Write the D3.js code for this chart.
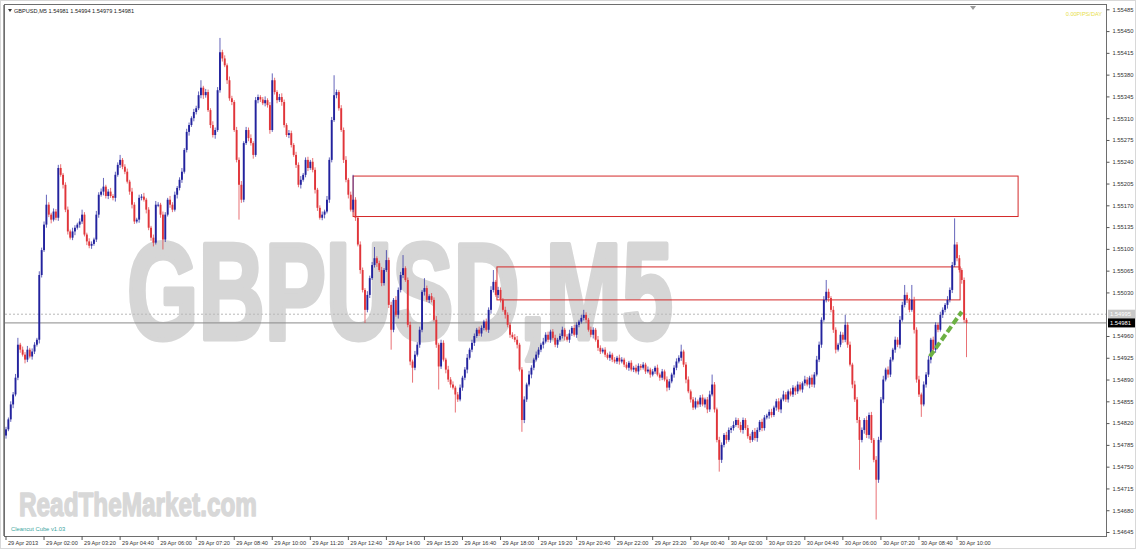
<!DOCTYPE html>
<html><head><meta charset="utf-8">
<script src="https://cdn.jsdelivr.net/npm/d3@7"></script>
<style>body{margin:0;background:#fff}svg{display:block}</style>
</head><body><svg id="c" width="1136" height="549"></svg>
<script>
// price = BASE + points / 100000
const BASE = 1.546;
const firstOpen = 200;
const close = [
210,226,250,266,293,346,338,330,322,338,
327,335,346,354,458,498,539,571,555,547,
560,550,630,619,603,563,528,518,528,534,
539,544,555,523,512,505,508,515,555,587,
592,600,585,592,585,582,619,635,643,632,
624,608,592,571,544,547,582,584,579,563,
534,518,510,571,571,555,515,555,579,571,
563,587,598,611,624,659,688,699,710,720,
726,747,759,747,752,723,699,683,691,755,
816,806,795,771,742,736,691,643,603,579,
670,691,678,670,651,739,744,740,734,739,731,
691,771,752,739,744,736,699,683,686,667,
651,635,603,611,619,643,630,640,627,595,
566,550,555,560,579,643,707,747,752,726,
691,643,611,587,563,579,550,507,466,434,
402,426,453,474,485,477,466,445,466,482,
410,370,418,394,434,458,469,450,378,319,
309,330,346,370,431,437,418,424,418,386,
346,311,349,322,306,290,282,277,266,258,
277,293,306,325,338,349,360,370,364,373,
383,370,402,434,447,426,434,418,402,394,
378,362,358,354,346,306,225,258,282,298,309,
322,330,338,346,351,362,354,367,357,346,
354,360,370,359,354,364,373,362,378,383,
389,394,386,370,362,370,354,341,335,338,
330,325,330,322,319,325,319,322,314,309,
317,306,309,303,312,309,314,303,306,298,
303,309,298,293,303,290,277,287,298,309,
319,325,335,314,290,271,258,245,255,250,
261,250,258,242,266,282,242,193,161,185,
201,193,209,212,217,225,217,209,225,212,
199,193,206,196,209,222,212,229,232,238,233,
245,255,242,258,266,258,271,266,277,271,
282,274,284,290,282,293,282,298,322,346,
386,418,431,421,402,370,338,346,362,354,
378,346,314,282,258,225,193,209,225,201,
233,193,161,129,193,258,290,306,298,322,
338,354,346,386,410,426,418,402,418,370,
290,266,250,282,298,322,354,338,378,370,
394,402,410,418,434,474,507,485,466,450,
386,381];
const upWick = [
4,3,5,4,6,11,3,5,4,6,
3,5,4,3,6,4,5,16,4,3,
5,4,5,6,3,4,5,3,6,4,
3,5,8,4,3,5,4,3,6,4,
5,14,3,4,6,3,5,4,8,3,
4,5,3,6,4,3,5,4,6,3,
4,3,5,6,4,3,5,4,3,6,
4,5,3,4,6,3,5,4,3,5,
4,6,12,3,5,4,3,6,4,5,
23,4,5,3,6,4,3,5,4,6,
3,5,4,6,3,5,4,3,4,6,3,
5,11,4,3,5,6,4,3,5,4,
3,5,4,6,3,4,5,3,6,4,
3,4,5,3,6,4,5,32,4,3,
5,4,6,3,5,40,4,3,5,4,
3,6,4,5,18,3,4,5,3,16,
4,5,3,6,4,5,21,3,4,5,
3,6,4,5,3,16,4,3,5,4,
6,3,5,4,3,6,4,5,3,4,
5,3,4,6,3,5,4,3,5,4,
3,5,4,6,19,3,5,4,3,5,
4,3,4,5,6,3,4,5,3,6,4,
3,5,4,3,6,4,5,3,4,5,
3,4,5,3,4,6,3,5,4,3,
5,8,4,3,5,4,3,6,4,3,
4,3,5,3,4,3,5,4,3,4,
3,4,3,5,4,3,4,3,5,3,
4,3,5,3,4,3,5,4,3,4,
5,4,11,3,4,5,3,4,6,3,
4,5,3,4,6,16,4,3,5,4,
3,5,4,3,6,4,3,5,4,3,
5,4,3,6,4,3,5,4,3,4,5,
3,4,5,3,6,4,3,5,4,3,
5,4,3,6,4,3,5,4,6,5,
4,6,19,5,3,6,4,3,5,4,
16,4,5,3,6,4,5,4,3,6,
4,5,3,6,5,4,6,3,5,4,
3,5,4,6,5,16,4,3,24,5,
4,6,3,5,4,6,3,5,4,3,
5,4,3,6,4,5,42,4,5,3,
4,3];
const downWick = [
5,3,4,6,3,4,5,3,6,4,
3,5,4,3,6,4,3,5,4,6,
3,4,5,3,6,4,5,3,4,6,
3,5,4,3,6,4,5,3,4,5,
3,6,4,5,3,4,6,3,5,4,
4,3,5,6,4,3,5,4,3,6,
4,5,6,3,4,5,16,4,3,5,
4,3,6,4,5,3,4,6,3,5,
4,3,5,6,4,3,5,4,6,3,
4,5,3,6,4,5,3,4,56,5,
4,3,5,4,6,3,5,4,3,5,4,
6,3,4,5,3,6,4,3,5,4,
3,5,4,6,3,4,5,3,4,6,
5,3,4,6,3,5,4,3,5,4,
3,5,4,6,3,4,5,3,6,4,
21,4,5,3,4,6,3,5,4,3,
5,32,4,3,6,4,5,3,4,6,
24,4,3,5,4,6,3,5,4,3,
5,37,4,3,6,4,5,3,29,4,
3,5,4,6,3,4,5,3,4,5,
4,3,5,6,4,3,5,4,3,6,
4,5,3,4,6,3,19,5,4,3,6,
4,3,5,4,6,3,4,5,3,4,
5,3,4,6,3,5,4,3,5,4,
3,4,5,3,4,6,3,5,4,3,
4,3,5,4,3,4,5,3,4,3,
5,3,4,3,5,4,3,4,3,5,
3,4,3,5,4,3,6,4,3,5,
4,3,5,4,6,3,5,4,3,5,
4,3,5,6,4,3,5,4,19,5,
4,6,3,5,4,3,5,4,6,3,
4,5,3,4,6,3,5,4,3,5,4,
3,5,4,6,3,4,5,3,4,6,
4,3,5,4,3,6,4,5,3,4,
5,3,4,6,4,5,6,3,4,5,
4,5,3,6,4,5,48,4,6,5,
6,5,4,64,5,4,6,3,5,4,
3,5,4,6,3,4,5,4,3,6,
5,4,20,3,5,4,6,3,5,4,
3,5,4,6,4,5,3,5,4,6,
5,55];
const timeLabels = ["29 Apr 2013","29 Apr 02:00","29 Apr 03:20","29 Apr 04:40","29 Apr 06:00","29 Apr 07:20","29 Apr 08:40","29 Apr 10:00","29 Apr 11:20","29 Apr 12:40","29 Apr 14:00","29 Apr 15:20","29 Apr 16:40","29 Apr 18:00","29 Apr 19:20","29 Apr 20:40","29 Apr 22:00","29 Apr 23:20","30 Apr 00:40","30 Apr 02:00","30 Apr 03:20","30 Apr 04:40","30 Apr 06:00","30 Apr 07:20","30 Apr 08:40","30 Apr 10:00"];
const labelEvery = 16; // bars between time labels
const priceTicks = ["1.55485","1.55450","1.55415","1.55380","1.55345","1.55310","1.55275","1.55240","1.55205","1.55170","1.55135","1.55100","1.55065","1.55030","1.54960","1.54925","1.54890","1.54855","1.54820","1.54785","1.54750","1.54715","1.54680","1.54645"];
// zones: [startBar, endBar, topPrice, bottomPrice]
const zoneStart = [146, 206.5];
const zoneEnd = [425.7, 401.3];
const zoneTop = [1.55217, 1.55071];
const zoneBottom = [1.55152, 1.55018];
// trend line [bar, price]
const trendBars = [388.6, 402];
const trendPrices = [1.54927, 1.54999];
const bidPrice = 1.54981, askPrice = 1.54995;
const title = "GBPUSD,M5  1.54981 1.54994 1.54979 1.54981";

const svg = d3.select('#c');
const W = 1136, H = 549;
const L = 5, T = 5, R = 1106, B = 536;
const x = d3.scaleLinear().domain([0, 404]).range([6, 966.5]);
const y = d3.scaleLinear().domain([1.54645, 1.55485]).range([532, 9.3]);
const P = v => BASE + v / 1e5;
const FONT = 'Liberation Sans, Arial, sans-serif';

svg.append('rect').attr('x',0).attr('y',0).attr('width',W).attr('height',H).attr('fill','#fff');
svg.append('rect').attr('x',0.5).attr('y',0.5).attr('width',W-1).attr('height',H-1).attr('fill','none').attr('stroke','#d8d8d8');

svg.append('defs').append('clipPath').attr('id','plot').append('rect')
  .attr('x',L).attr('y',T).attr('width',R-L).attr('height',B-T);

// watermarks
svg.append('text').attr('x',127).attr('y',339).attr('textLength',546).attr('lengthAdjust','spacingAndGlyphs')
  .attr('font-family',FONT).attr('font-weight','bold').attr('font-size',138)
  .attr('fill','#d6d6d6').attr('stroke','#d6d6d6').attr('stroke-width',5).attr('stroke-linejoin','round')
  .text('GBPUSD,M5');
svg.append('text').attr('x',19).attr('y',516).attr('textLength',238).attr('lengthAdjust','spacingAndGlyphs')
  .attr('font-family',FONT).attr('font-weight','bold').attr('font-size',33)
  .attr('fill','#d8d8d8').attr('stroke','#d8d8d8').attr('stroke-width',1.5).attr('stroke-linejoin','round')
  .text('ReadTheMarket.com');

const g = svg.append('g').attr('clip-path','url(#plot)');

// price lines
g.append('line').attr('x1',L).attr('x2',R).attr('y1',y(askPrice)).attr('y2',y(askPrice))
  .attr('stroke','#b8b8b8').attr('stroke-dasharray','2,2').attr('stroke-width',1);
g.append('line').attr('x1',L).attr('x2',R).attr('y1',y(bidPrice)).attr('y2',y(bidPrice))
  .attr('stroke','#8a8a8a').attr('stroke-width',1);

// zones
zoneStart.forEach((s,k)=>{
  g.append('rect').attr('x',x(s)).attr('y',y(zoneTop[k])).attr('width',x(zoneEnd[k])-x(s))
    .attr('height',y(zoneBottom[k])-y(zoneTop[k])).attr('fill','none').attr('stroke','#d42a2a').attr('stroke-width',1);
});

// candles
const bars = close.map((c,i)=>{
  const o = i ? close[i-1] : firstOpen;
  return {i, o, c, h: Math.max(o,c)+upWick[i], l: Math.min(o,c)-downWick[i]};
});
const upC = '#23239e', dnC = '#e0353a';
g.selectAll('line.w').data(bars).enter().append('line').attr('class','w')
  .attr('x1',d=>x(d.i)).attr('x2',d=>x(d.i)).attr('y1',d=>y(P(d.h))).attr('y2',d=>y(P(d.l)))
  .attr('stroke',d=>d.c>=d.o?upC:dnC).attr('stroke-opacity',0.7).attr('stroke-width',1);
g.selectAll('rect.b').data(bars).enter().append('rect').attr('class','b')
  .attr('x',d=>x(d.i)-0.95).attr('width',1.9)
  .attr('y',d=>y(P(Math.max(d.o,d.c))))
  .attr('height',d=>Math.max(1,Math.abs(y(P(d.o))-y(P(d.c)))))
  .attr('fill',d=>d.c>=d.o?upC:dnC);

// trend line
g.append('line').attr('x1',x(trendBars[0])).attr('x2',x(trendBars[1]))
  .attr('y1',y(trendPrices[0])).attr('y2',y(trendPrices[1]))
  .attr('stroke','#6cb043').attr('stroke-width',4).attr('stroke-dasharray','7,3');

// frame
svg.append('rect').attr('x',L-0.5).attr('y',T-0.5).attr('width',R-L+1).attr('height',B-T+1)
  .attr('fill','none').attr('stroke','#6e6e6e').attr('stroke-width',1);
svg.append('line').attr('x1',3.5).attr('x2',3.5).attr('y1',T).attr('y2',B).attr('stroke','#9a9a9a');

// right axis
const yAxis = d3.axisRight(y).tickValues(priceTicks.map(Number)).tickFormat(d=>d.toFixed(5)).tickSize(3).tickPadding(3);
const ya = svg.append('g').attr('transform',`translate(${R+0.5},0)`).call(yAxis);
ya.select('.domain').remove();
ya.selectAll('line').attr('stroke','#555');
ya.selectAll('text').attr('font-family',FONT).attr('font-size',5.8).attr('fill','#333');

// price tags
function tag(p, bg, fg){
  const yy = y(p);
  svg.append('rect').attr('x',R+2).attr('y',yy-4.5).attr('width',27).attr('height',9).attr('fill',bg);
  svg.append('text').attr('x',R+4).attr('y',yy+2).attr('font-family',FONT)
    .attr('font-size',5.8).attr('fill',fg).text(p.toFixed(5));
}
tag(askPrice,'#c8c8c8','#ffffff');
tag(bidPrice,'#000000','#ffffff');

// bottom axis
const xa = svg.append('g');
timeLabels.forEach((t,k)=>{
  const xx = x(k*labelEvery);
  xa.append('line').attr('x1',xx).attr('x2',xx).attr('y1',B).attr('y2',B+4).attr('stroke','#555');
  xa.append('text').attr('x',xx+2).attr('y',B+9).attr('font-family',FONT)
    .attr('font-size',5.6).attr('fill','#333').text(t);
});

// title & labels
svg.append('path').attr('d','M8,9 L12,9 L10,12 Z').attr('fill','#333');
svg.append('text').attr('x',14).attr('y',12.5).attr('font-family',FONT)
  .attr('font-size',5.6).attr('fill','#222').text(title);
svg.append('path').attr('d','M970,6 L976,6 L973,10 Z').attr('fill','#9a9a9a');
svg.append('text').attr('x',1102).attr('y',16).attr('text-anchor','end').attr('font-family',FONT)
  .attr('font-size',5.6).attr('fill','#e8e04a').text('0.00PIPS/DAY');
svg.append('text').attr('x',11).attr('y',530.5).attr('font-family',FONT)
  .attr('font-size',5.8).attr('fill','#3aa6a0').text('Cleancut Cube v1.03');
</script></body></html>
